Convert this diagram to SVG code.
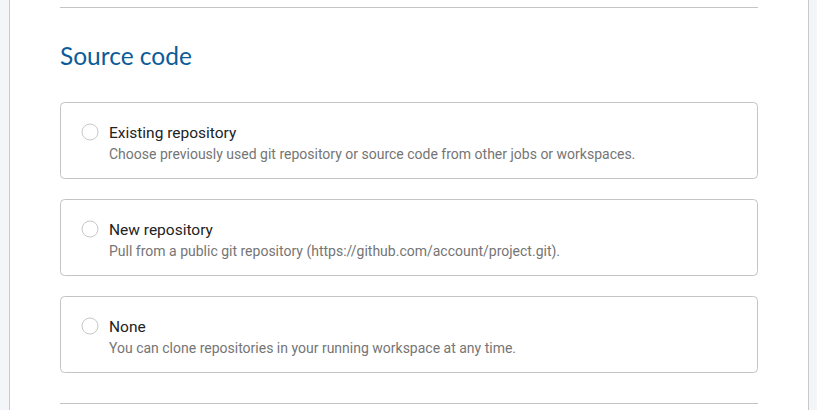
<svg xmlns="http://www.w3.org/2000/svg" width="817" height="410" viewBox="0 0 817 410">
<style>
.card{fill:#ffffff;stroke:#c4c4c4;stroke-width:1}
.radio{fill:#ffffff;stroke:#c8c8c8;stroke-width:1}
.title{font-family:Roboto,"Liberation Sans",sans-serif;font-size:15.5px;fill:#222222}
.sub{font-family:Roboto,"Liberation Sans",sans-serif;font-size:14px;fill:#757575}
.rule{stroke:#c4c4c4;stroke-width:1}
</style>
<rect x="0" y="0" width="817" height="410" fill="#f4f5f8"/>
<rect x="9.5" y="-1" width="799" height="412" fill="#ffffff" stroke="#c9c9c9" stroke-width="1"/>
<line class="rule" x1="60" y1="7.5" x2="758" y2="7.5"/>
<text x="60" y="65" font-family="Lato,'Open Sans',sans-serif" font-size="24.5" fill="#0b5c99">Source code</text>
<g id="existing">
<rect class="card" x="60.5" y="102.5" width="697" height="76" rx="4"/>
<circle class="radio" cx="90" cy="132" r="8"/>
<text class="title" x="109" y="138">Existing repository</text>
<text class="sub" x="109" y="159">Choose previously used git repository or source code from other jobs or workspaces.</text>
</g>
<g id="new">
<rect class="card" x="60.5" y="199.5" width="697" height="76" rx="4"/>
<circle class="radio" cx="90" cy="229" r="8"/>
<text class="title" x="109" y="235">New repository</text>
<text class="sub" x="109" y="256">Pull from a public git repository (https://github.com/account/project.git).</text>
</g>
<g id="none">
<rect class="card" x="60.5" y="296.5" width="697" height="76" rx="4"/>
<circle class="radio" cx="90" cy="326" r="8"/>
<text class="title" x="109" y="332">None</text>
<text class="sub" x="109" y="353">You can clone repositories in your running workspace at any time.</text>
</g>
<g id="connectors"></g>
<line class="rule" x1="60" y1="403.5" x2="758" y2="403.5"/>
</svg>
